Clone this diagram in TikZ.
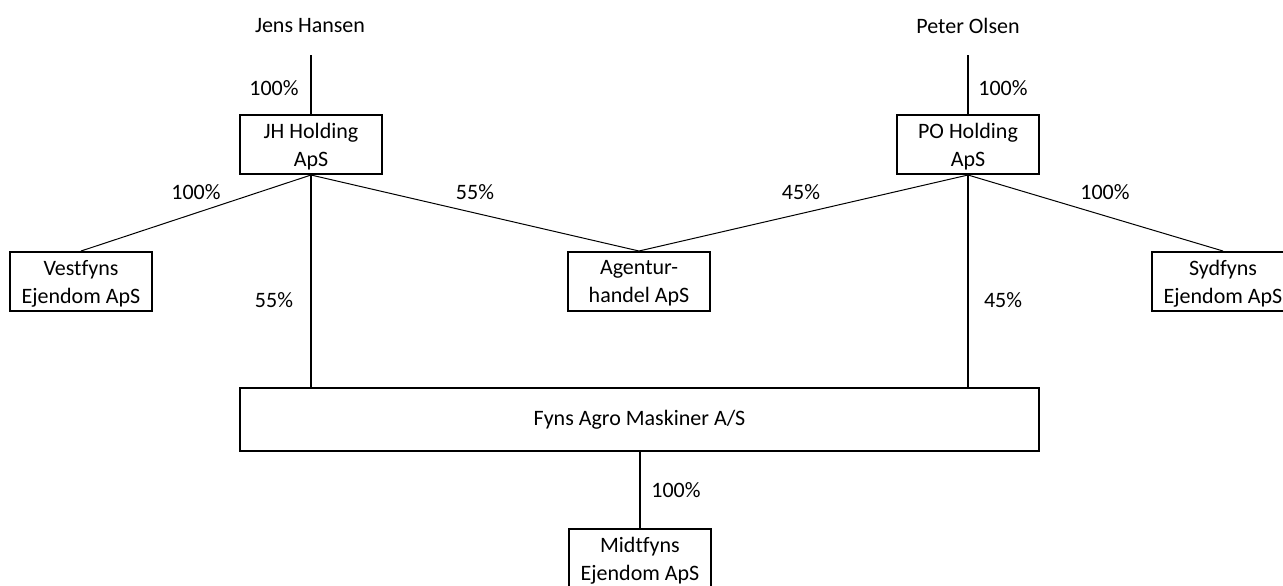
\documentclass[tikz,border=0pt]{standalone}
\usepackage{fontspec}
\setmainfont{Carlito}[Ligatures=CommonOff]
\tikzset{
  firma/.style={draw, line width=1pt, align=center, inner sep=0pt,
    minimum width=71pt, minimum height=29.5pt},
  tolinjer/.style={firma, text depth=-2pt},
  ejer/.style={line width=1pt},
  andel/.style={line width=0.5pt},
  pct/.style={inner sep=0pt}
}
\begin{document}
\begin{tikzpicture}[x=0.5pt,y=-0.5pt,font=\fontsize{11}{14}\selectfont]
			\useasboundingbox (0,0) rectangle (1283,585);

			% personer
			\node (jens)  at ( 310, 26) {Jens Hansen};
			\node (peter) at ( 968, 26) {Peter Olsen};
			\coordinate (jtop) at (311,55);
			\coordinate (ptop) at (968,55);

			% selskaber
			\node [tolinjer] (jh)    at ( 311,144.5) {JH Holding\\ApS};
			\node [tolinjer] (po)    at ( 968,144.5) {PO Holding\\ApS};
			\node [tolinjer] (vest)  at (  81,281.5) {Vestfyns\\Ejendom ApS};
			\node [tolinjer] (agent) at ( 639,281.5) {Agentur-\\handel ApS};
			\node [tolinjer] (syd)   at (1223,281.5) {Sydfyns\\Ejendom ApS};
			\node [firma, minimum width=399.5pt, minimum height=31.5pt] (fyns) at (639.5,419.5) {Fyns Agro Maskiner A/S};
			\node [tolinjer] (midt)  at ( 640,558.5) {Midtfyns\\Ejendom ApS};

			\draw[ejer] (jtop) -- (jh.north);
			\draw[ejer] (ptop) -- (po.north);

			\draw[andel] (jh.south) -- (vest.north);
			\draw[andel] (jh.south) -- (agent.north);
			\draw[andel] (po.south) -- (agent.north);
			\draw[andel] (po.south) -- (syd.north);

			\draw[ejer] (jh.south) -- (jh.south |- fyns.north);
			\draw[ejer] (po.south) -- (po.south |- fyns.north);
			\draw[ejer] (midt.north |- fyns.south) -- (midt.north);

			% procenter
			\node [pct] (p1) at ( 274, 88) {100\%};
			\node [pct] (p2) at (1003, 88) {100\%};
			\node [pct] (p3) at ( 196,192) {100\%};
			\node [pct] (p4) at ( 475,192) {55\%};
			\node [pct] (p5) at ( 801,192) {45\%};
			\node [pct] (p6) at (1105,192) {100\%};
			\node [pct] (p7) at ( 274,300) {55\%};
			\node [pct] (p8) at (1003,300) {45\%};
			\node [pct] (p9) at ( 676,490) {100\%};
		\end{tikzpicture}
\end{document}
